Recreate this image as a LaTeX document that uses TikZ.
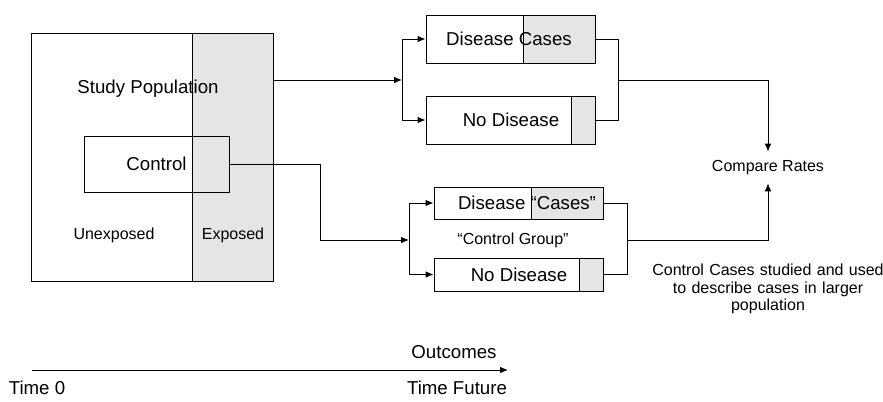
\documentclass[tikz,border=0pt]{standalone}
\usepackage{fontspec}
\setmainfont{Liberation Sans}
\usepackage{tikz}
\usetikzlibrary{arrows,arrows.meta,positioning}
\tikzset{%
	box/.style      = {draw, rectangle, inner sep=0pt},
	graypart/.style = {draw, fill=gray!20},
	arrow/.style    = {-{Latex[length=6pt,width=5pt]}},
	lbl/.style      = {font=\fontsize{14}{16}\selectfont, inner sep=0pt},
	small/.style    = {font=\fontsize{12}{13}\selectfont, inner sep=0pt, align=center},
}
\begin{document}
\begin{tikzpicture}[x=0.75pt,y=-0.75pt,line width=0.75pt]
	\useasboundingbox (0,0) rectangle (883,401);
	% study population
	\filldraw[graypart] (192,33) rectangle (273,281);
	\node[box, minimum width=181.5pt, minimum height=186pt] (pop) at (152,157) {};
	\node[lbl] (poptxt) at (148,89) {Study Population};
	\node[small] (unexp) at (114,235) {Unexposed};
	\node[small] (exp) at (233,235) {Exposed};
	\node[box, lbl, minimum width=108.75pt, minimum height=42pt] (ctrl) at (156.5,164) {Control};
	
	% outcomes of the whole population
	\filldraw[graypart] (523,15) rectangle (595,63);
	\filldraw[graypart] (571,96) rectangle (595,144);
	\node[box, minimum width=126.75pt, minimum height=36pt] (dc1) at (510.5,39) {};
	\node[box, minimum width=126.75pt, minimum height=36pt] (nd1) at (510.5,120) {};
	\node[lbl] (dc1txt) at (509,39) {Disease Cases};
	\node[lbl] (nd1txt) at (511,120) {No Disease};
	
	% outcomes of the control group
	\filldraw[graypart] (531,187) rectangle (603,219);
	\filldraw[graypart] (579,258) rectangle (603,291);
	\node[box, minimum width=126.75pt, minimum height=24pt] (dc2) at (518.5,203) {};
	\node[box, minimum width=126.75pt, minimum height=24.75pt] (nd2) at (518.5,274.5) {};
	\node[lbl] (dc2txt) at (527,203) {Disease “Cases”};
	\node[lbl] (nd2txt) at (519,275) {No Disease};
	\node[small] (grp) at (513,240) {“Control Group”};
	
	\node[small, minimum height=23pt] (cmp) at (768,167.5) {Compare Rates};
	\node[small, text width=230pt] (note) at (768,289) {Control Cases studied and used\\to describe cases in larger\\population};
	
	% connectors
	\coordinate (split1) at (402,80);
	\coordinate (merge1) at (618,80);
	\coordinate (jog) at (320,240);
	\coordinate (split2) at (409,240);
	\coordinate (merge2) at (627,240);
	\draw[arrow] (split1 -| pop.east) -- (split1);
	\draw[arrow] (split1) |- (dc1);
	\draw[arrow] (split1) |- (nd1);
	\draw (dc1) -| (merge1);
	\draw (nd1) -| (merge1);
	\draw[arrow] (merge1) -| (cmp);
	\draw[arrow] (ctrl.east) -| (jog) -- (split2);
	\draw[arrow] (split2) |- (dc2);
	\draw[arrow] (split2) |- (nd2);
	\draw (dc2) -| (merge2);
	\draw (nd2) -| (merge2);
	\draw[arrow] (merge2) -| (cmp);
	
	% time line
	\coordinate (t0) at (32,370);
	\coordinate (tf) at (508,370);
	\draw[arrow] (t0) -- (tf);
	\node[lbl] (outc) at (454,352) {Outcomes};
	\node[lbl] (time0) at (37,388) {Time 0};
	\node[lbl] (timef) at (457,388) {Time Future};
\end{tikzpicture}
\end{document}
